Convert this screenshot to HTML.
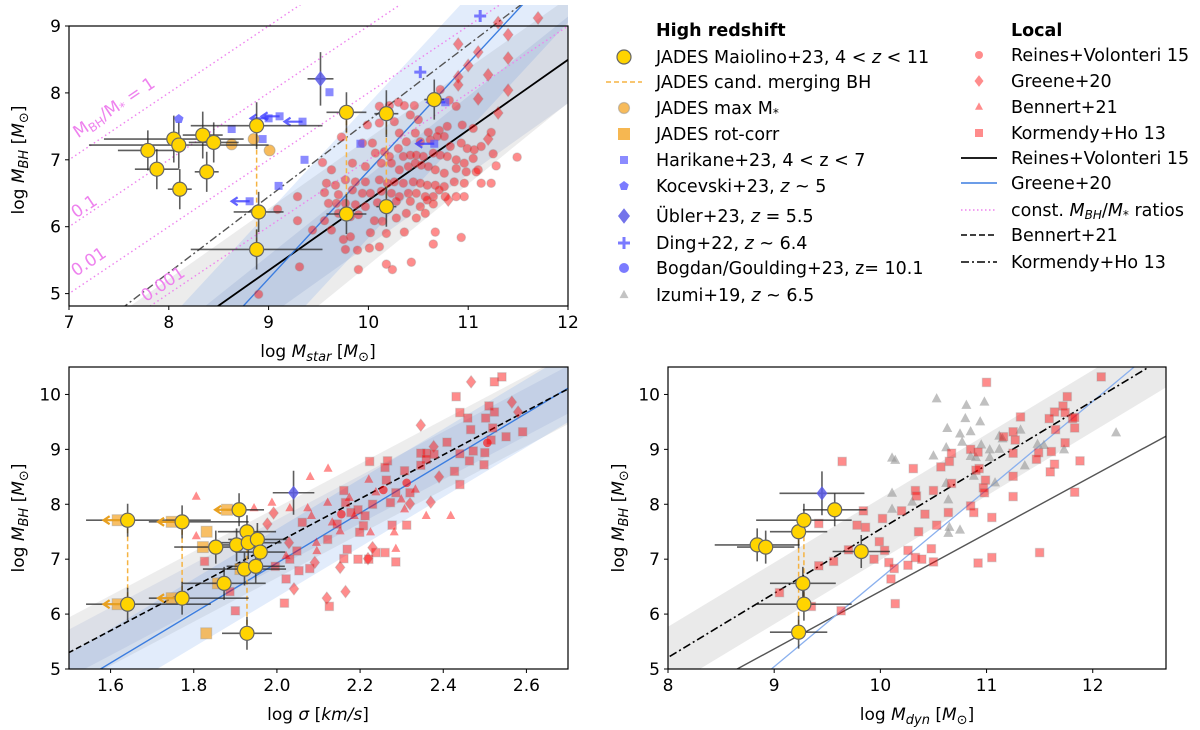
<!DOCTYPE html>
<html><head><meta charset="utf-8">
<style>
html,body{margin:0;padding:0;background:#fff;width:1200px;height:730px;overflow:hidden;}
svg{display:block;font-family:"DejaVu Sans","Liberation Sans",sans-serif;}
</style></head>
<body>
<svg id="fig" width="1200" height="730" viewBox="0 0 1200 730" xmlns="http://www.w3.org/2000/svg">
<defs>
<clipPath id="cTop"><rect x="69" y="5" width="499" height="301"/></clipPath>
<clipPath id="cBL"><rect x="69" y="367" width="499" height="302"/></clipPath>
<clipPath id="cBR"><rect x="668" y="367" width="498" height="302"/></clipPath>
</defs>
</svg>
<script>
// ---------------- DATA ----------------
const jadesStarX=[7.79,7.88,8.05,8.10,8.11,8.34,8.45,8.38,8.88,8.90,8.88,9.78,9.78,10.18,10.18,10.66];
const jadesStarY=[7.14,6.86,7.31,7.22,6.56,7.37,7.26,6.82,7.51,6.22,5.66,7.71,6.19,7.69,6.30,7.90];
const jadesStarXerr=[0.3,0.22,0.7,0.9,0.12,0.2,0.25,0.12,0.66,0.25,0.66,0.2,0.2,0.12,0.1,0.1];
const jadesStarYerr=[0.3,0.3,0.35,0.35,0.3,0.35,0.3,0.3,0.35,0.3,0.3,0.3,0.3,0.35,0.3,0.3];
const mergeStarX=[8.88,9.78,10.18];
const mergeStarY1=[7.51,7.71,7.69];
const mergeStarY2=[5.66,6.19,6.30];
const maxMstarX=[8.63,8.85,9.01];
const maxMstarY=[7.23,7.31,7.14];
const harikaneX=[8.63,8.94,9.11,9.00,9.34,9.36,9.10,8.81,9.61,9.92,10.77,10.66];
const harikaneY=[7.46,7.31,7.65,7.62,7.57,7.00,6.61,6.38,8.01,7.24,7.86,7.24];
const harikaneLimit=[0,0,1,1,1,0,0,1,0,0,1,1];
const kocevskiX=[8.10]; const kocevskiY=[7.61];
const dingX=[11.12,10.52]; const dingY=[9.15,8.31];
const ublerStarX=[9.52]; const ublerStarY=[8.21];
const greeneStarX=[11.70,11.30,11.40,10.90,11.10,11.40,11.00,11.20,10.90,11.40,11.10,11.30,11.20,10.80,10.90];
const greeneStarY=[9.12,9.05,8.87,8.73,8.61,8.52,8.41,8.27,8.24,8.04,7.91,7.70,7.31,6.40,8.12];
const rvX=[10.30,10.11,10.21,10.36,10.46,10.72,10.81,10.88,9.99,10.11,10.26,10.42,10.50,10.31,10.47,10.60,10.71,10.79,10.94,11.05,11.23,10.38,10.52,10.62,10.69,10.76,10.82,10.93,10.99,11.06,11.13,11.25,11.49,9.73,9.94,10.04,10.07,10.16,10.21,10.30,10.35,10.42,10.48,10.55,10.65,10.72,10.79,10.88,10.96,11.05,11.10,11.28,9.54,9.63,9.84,9.97,10.13,10.23,10.31,10.40,10.47,10.53,10.60,10.67,10.76,10.88,10.98,11.08,11.13,11.23,9.58,9.67,9.77,9.87,9.97,10.11,10.19,10.26,10.35,10.45,10.52,10.59,10.67,10.76,10.86,10.96,10.71,9.56,9.70,9.84,9.94,10.02,10.13,10.23,10.31,10.40,10.48,10.57,10.65,10.77,10.88,10.96,9.29,9.60,9.68,9.77,9.87,9.97,10.09,10.28,10.42,10.52,10.59,10.65,9.09,9.29,9.56,9.70,9.82,9.90,10.06,10.14,10.28,10.38,10.48,10.57,9.44,9.63,9.75,9.82,10.02,10.18,10.36,10.67,10.93,9.77,9.89,10.01,10.11,10.43,10.65,9.90,10.18,10.24,9.31,8.90];
const rvY=[7.86,7.80,7.81,7.81,7.81,8.05,7.89,7.80,7.52,7.55,7.57,7.67,7.60,7.40,7.40,7.41,7.44,7.50,7.52,7.47,7.41,7.27,7.27,7.30,7.35,7.35,7.20,7.25,7.17,7.15,7.20,7.09,7.04,7.34,7.25,7.25,7.10,7.12,7.05,7.17,7.05,7.07,7.07,7.05,7.10,7.07,7.05,7.00,6.95,7.02,6.85,6.91,6.96,6.85,6.95,6.90,6.95,6.95,6.85,6.90,6.95,6.92,6.90,6.85,6.80,6.87,6.82,6.82,6.65,6.65,6.65,6.62,6.70,6.67,6.67,6.70,6.65,6.67,6.65,6.67,6.65,6.62,6.62,6.60,6.67,6.65,6.55,6.51,6.48,6.55,6.50,6.50,6.53,6.50,6.45,6.50,6.50,6.45,6.45,6.45,6.45,6.45,6.45,6.35,6.35,6.35,6.33,6.30,6.36,6.38,6.38,6.30,6.40,6.34,6.26,6.09,6.09,6.20,6.15,6.18,6.09,6.08,6.13,6.20,6.13,6.20,5.95,5.95,5.81,5.85,5.91,5.90,5.92,5.92,5.84,5.66,5.65,5.68,5.70,5.47,5.74,5.36,5.44,5.36,5.40,4.99];
const ratioLines=[0,-1,-2,-3];
const starTicksX=[7,8,9,10,11,12];
const starTicksY=[5,6,7,8,9];

const jadesSigX=[1.641,1.772,1.641,1.772,1.909,1.928,1.853,1.903,1.931,1.953,1.960,1.922,1.949,1.873,1.928];
const jadesSigY=[7.71,7.68,6.18,6.29,7.90,7.50,7.22,7.26,7.30,7.36,7.13,6.82,6.87,6.56,5.65];
const jadesSigLimit=[1,1,1,1,1,0,0,0,0,0,0,0,0,0,0];
const jadesSigXerr=[0.2,0.16,0.2,0.16,0.06,0.07,0.1,0.05,0.08,0.07,0.06,0.1,0.07,0.1,0.06];
const rotSigX=[1.617,1.747,1.617,1.747,1.880,1.831,1.822,1.830,1.912,1.858];
const rotSigY=[7.71,7.68,6.18,6.29,7.90,7.50,7.22,5.65,6.82,6.56];
const mergeSigX=[1.641,1.772,1.928];
const mergeSigY1=[7.71,7.68,7.50];
const mergeSigY2=[6.18,6.29,5.65];
const ublerSigX=[2.04]; const ublerSigY=[8.21];
const khSigX=[2.541,2.523,2.431,2.440,2.459,2.502,2.510,2.523,2.466,2.519,2.591,2.551,2.515,2.409,2.472,2.500,2.440,2.346,2.360,2.378,2.463,2.498,2.427,2.440,2.359,2.346,2.223,2.266,2.260,2.161,2.307,2.263,2.286,2.320,2.165,2.195,2.230,2.273,2.212,2.178,2.061,2.048,2.208,2.199,2.169,2.195,2.238,2.260,2.286,2.312,2.277,2.122,2.031,2.053,2.079,2.022,2.161,2.221,2.018,2.126,1.900,1.887,1.826,1.996,2.145];
const khSigY=[10.32,10.23,9.96,9.67,9.57,9.57,9.79,9.68,9.36,9.39,9.32,9.23,9.17,9.13,8.97,8.94,8.92,8.93,8.93,8.91,8.79,8.72,8.60,8.36,8.82,8.71,8.78,8.79,8.67,8.25,8.61,8.44,8.21,8.21,8.03,7.90,8.00,8.03,7.79,7.85,7.67,7.15,7.61,7.49,7.18,7.00,7.12,7.12,6.95,7.62,7.62,7.36,7.00,6.79,6.83,6.64,7.01,7.00,6.20,6.14,6.06,6.41,6.96,6.87,7.64];
const bennertSigX=[1.806,2.123,2.080,1.945,1.988,2.031,2.074,2.083,2.122,2.133,2.174,2.221,2.238,2.299,2.307,2.359,2.418,2.286,2.282,2.225,2.152,2.095,2.096,1.806,2.022,2.186,2.333];
const bennertSigY=[8.14,8.65,8.50,7.93,8.03,7.93,7.93,7.79,8.03,7.67,8.12,8.45,8.22,8.09,7.91,7.79,7.79,7.19,7.49,7.49,7.51,7.30,7.15,7.42,7.06,7.79,8.27];
const greeneSigX=[2.467,2.346,2.565,2.580,2.377,2.390,2.370,2.320,1.977,1.992,2.029,2.041,2.120,2.165,2.152,2.091,2.219,2.230];
const greeneSigY=[10.23,9.44,9.86,9.68,9.05,8.50,8.04,8.01,7.64,7.84,7.30,6.46,6.29,6.41,6.85,6.94,7.01,7.21];
const rvSigX=[2.155,2.312,2.506,2.256];
const rvSigY=[7.82,8.39,9.12,8.26];
const sigTicksX=[1.6,1.8,2.0,2.2,2.4,2.6];
const bhTicksY=[5,6,7,8,9,10];

const jadesDynX=[8.84,8.92,9.23,9.28,9.57,9.82,9.27,9.28,9.23];
const jadesDynY=[7.26,7.22,7.50,7.71,7.90,7.14,6.56,6.18,5.67];
const jadesDynXerr=[0.4,0.27,0.27,0.45,0.3,0.27,0.31,0.45,0.27];
const mergeDynX=[9.23,9.28];
const mergeDynY1=[7.50,7.71];
const mergeDynY2=[5.67,6.18];
const ublerDynX=[9.45]; const ublerDynY=[8.20];
const khDynX=[11.00,12.08,11.76,11.72,11.64,11.74,11.59,11.32,11.81,11.83,11.25,11.65,11.27,11.74,11.16,10.85,10.67,10.92,11.61,11.49,11.47,11.88,11.25,10.65,10.57,11.64,11.60,10.31,9.64,10.90,10.93,11.25,10.99,10.67,10.97,10.33,10.50,10.98,10.34,11.25,11.83,10.20,9.84,10.85,10.88,10.64,10.42,11.05,10.02,9.78,9.86,9.42,10.53,10.36,9.99,10.04,10.26,9.70,10.48,9.94,10.33,10.39,9.56,10.08,10.50,10.26,10.13,10.10,9.42,9.05,9.35,9.63,10.14,10.92,11.05,11.50,11.83];
const khDynY=[10.22,10.32,9.96,9.79,9.68,9.67,9.56,9.59,9.56,9.39,9.32,9.36,9.17,9.12,9.23,9.00,8.93,8.95,8.96,8.94,8.82,8.79,8.93,8.78,8.68,8.73,8.59,8.65,8.78,8.62,8.65,8.51,8.44,8.38,8.30,8.25,8.25,8.21,8.15,8.14,8.22,7.88,7.88,7.97,7.85,7.85,7.82,7.76,7.74,7.62,7.58,7.65,7.62,7.50,7.32,7.16,7.16,7.17,7.19,7.00,7.03,7.00,6.96,6.94,6.95,6.89,6.83,6.64,6.88,6.39,6.14,6.06,6.19,6.93,7.03,7.12,9.58];
const izumiDynX=[10.53,10.81,10.98,10.80,10.94,10.63,10.75,10.85,10.77,10.95,10.62,10.50,10.85,11.03,11.12,11.12,11.15,11.32,11.48,11.54,11.73,12.22,11.36,10.11,10.14,10.90,11.03,10.62,11.08,10.88,10.11,10.30,10.64,10.11,10.65,10.64,10.75];
const izumiDynY=[9.92,9.80,9.86,9.56,9.50,9.38,9.28,9.32,9.13,9.08,9.03,8.88,8.87,8.99,9.00,9.24,9.19,9.35,9.09,9.07,8.99,9.30,8.70,8.84,8.80,8.85,8.85,8.38,8.39,8.51,8.20,8.04,8.08,7.91,7.58,7.47,7.53];
const dynTicksX=[8,9,10,11,12];

const rvRel=[8.48,4.80,1.05];
const greeneStarRel=[8.75,4.82,1.61];
const khStarRel=[7.90,5.20,1.135];
const bennertSigRel=[1.5,5.30,4.0];
const greeneSigRel=[1.578,5.01,4.55];
const khDynRel=[8.0,5.21,1.168];
const grayDynRel=[8.68,5.03,1.05];
const greeneDynRel=[8.98,5.01,1.61];

// ---------------- DRAWING ----------------
const NS='http://www.w3.org/2000/svg';
const svg=document.getElementById('fig');
const FS=17;
function mk(tag,attrs,parent){const e=document.createElementNS(NS,tag);for(const k in attrs)e.setAttribute(k,attrs[k]);(parent||svg).appendChild(e);return e;}
function panel(x0,x1,px0,px1,y0,y1,py0,py1){
  return {X:v=>px0+(v-x0)/(x1-x0)*(px1-px0),Y:v=>py0+(v-y0)/(y1-y0)*(py1-py0),x0,x1,y0,y1,px0,px1,py0,py1};
}
const PT=panel(7,12,69,568,5,9,293.6,26);
const PL=panel(1.5,2.7,69,568,5,10.5,669,367);
const PR=panel(8,12.69,668,1166,5,10.5,669,367);

function rel(r,x){return r[1]+r[2]*(x-r[0]);}
function bandPoly(g,P,fU,fL,color,name){
  const xs=[P.x0-0.5,P.x1+0.5];
  const pts=[[xs[0],fU(xs[0])],[xs[1],fU(xs[1])],[xs[1],fL(xs[1])],[xs[0],fL(xs[0])]];
  const e=mk('polygon',{points:pts.map(p=>P.X(p[0])+','+P.Y(p[1])).join(' '),fill:color},g);
  
  
}
function relLine(g,P,r,style,name){
  const xa=P.x0-0.5,xb=P.x1+0.5;
  const e=mk('line',Object.assign({x1:P.X(xa),y1:P.Y(rel(r,xa)),x2:P.X(xb),y2:P.Y(rel(r,xb))},style),g);
  
  
}
function marker(g,type,x,y,s,fill,stroke,sw){
  let e;
  if(type==='c') e=mk('circle',{cx:x,cy:y,r:s,fill:fill,stroke:stroke,'stroke-width':sw},g);
  else if(type==='s') e=mk('rect',{x:x-s,y:y-s,width:2*s,height:2*s,fill:fill,stroke:stroke,'stroke-width':sw},g);
  else if(type==='d') e=mk('polygon',{points:`${x},${y-s*1.3} ${x+s},${y} ${x},${y+s*1.3} ${x-s},${y}`,fill:fill,stroke:stroke,'stroke-width':sw},g);
  else if(type==='t') e=mk('polygon',{points:`${x},${y-s*1.15} ${x+s},${y+s*0.7} ${x-s},${y+s*0.7}`,fill:fill,stroke:stroke,'stroke-width':sw},g);
  else if(type==='p') e=mk('polygon',{points:[0,1,2,3,4].map(i=>{const a=-Math.PI/2+i*2*Math.PI/5;return (x+s*Math.cos(a))+','+(y+s*Math.sin(a));}).join(' '),fill:fill,stroke:stroke,'stroke-width':sw},g);
  else if(type==='+') {e=mk('path',{d:`M${x-s},${y}H${x+s}M${x},${y-s}V${y+s}`,stroke:fill,'stroke-width':3},g);}
  return e;
}
function scatter(g,P,xs,ys,type,s,fill,stroke,sw,name){
  for(let i=0;i<xs.length;i++){
    const e=marker(g,type,P.X(xs[i]),P.Y(ys[i]),s,fill,stroke,sw);
    
    
  }
}
function errbars(g,P,xs,ys,xe,ye,name){
  for(let i=0;i<xs.length;i++){
    const e=mk('path',{d:`M${P.X(xs[i]-xe[i])},${P.Y(ys[i])}H${P.X(xs[i]+xe[i])}M${P.X(xs[i])},${P.Y(ys[i]-ye[i])}V${P.Y(ys[i]+ye[i])}`,stroke:'rgba(40,40,40,0.75)','stroke-width':1.6,fill:'none'},g);
    
    
  }
}
function vdash(g,P,xs,y1,y2,name){
  for(let i=0;i<xs.length;i++){
    const e=mk('line',{x1:P.X(xs[i]),x2:P.X(xs[i]),y1:P.Y(y1[i]),y2:P.Y(y2[i]),stroke:'#f5b342','stroke-width':1.5,'stroke-dasharray':'5,3'},g);
    
    
  }
}
function arrowLeft(g,x,y,len,color,name){
  const e=mk('path',{d:`M${x},${y}H${x-len}M${x-len+6},${y-4}L${x-len},${y}L${x-len+6},${y+4}`,stroke:color,'stroke-width':2.2,fill:'none'},g);
  
  
}
function axes(P,tx,ty,fmtx,panelName){
  const g=mk('g',{});
  
  
  const bottom=panelName==='top-panel'?306:669;
  const fr=mk('rect',{x:P.px0,y:P.py1,width:P.px1-P.px0,height:bottom-P.py1,fill:'none',stroke:'#000','stroke-width':1.2},g);
  
  
  tx.forEach(v=>{
    const x=P.X(v);
    mk('line',{x1:x,x2:x,y1:bottom,y2:bottom+4,stroke:'#000','stroke-width':1},g);
    const t=mk('text',{x:x,y:bottom+22,'text-anchor':'middle','font-size':FS,fill:'#000'},g);
    t.textContent=fmtx(v);
    
    
  });
  ty.forEach(v=>{
    const y=P.Y(v);
    mk('line',{x1:P.px0,x2:P.px0-4,y1:y,y2:y,stroke:'#000','stroke-width':1},g);
    const t=mk('text',{x:P.px0-8,y:y+6,'text-anchor':'end','font-size':FS,fill:'#000'},g);
    t.textContent=v;
    
    
  });
  return g;
}
function txt(parent,x,y,html,attrs,name){
  const t=mk('text',Object.assign({x:x,y:y,'font-size':FS,fill:'#000'},attrs||{}),parent);
  t.innerHTML=html;
  
  
  return t;
}
const RED='rgba(255,0,0,0.45)', REDE='rgba(150,150,150,0.3)';

// ===== TOP PANEL =====
const gT=mk('g',{'clip-path':'url(#cTop)'});


bandPoly(gT,PT,x=>4.82+1.05*(x-7.62),x=>4.82+1.212*(x-9.5),'rgba(150,150,150,0.18)','rv15-scatter-band');
bandPoly(gT,PT,x=>rel(greeneStarRel,x)+1.0,x=>rel(greeneStarRel,x)-1.0,'rgba(110,160,235,0.2)','greene20-scatter-band');
bandPoly(gT,PT,x=>4.82+1.19*(x-8.37),x=>4.82+1.06*(x-9.15),'rgba(80,110,180,0.13)','fit-uncertainty-band');
ratioLines.forEach(o=>relLine(gT,PT,[0,o,1],{stroke:'violet','stroke-width':1.4,'stroke-dasharray':'1.5,3'},'const-ratio-line'));
relLine(gT,PT,khStarRel,{stroke:'#555','stroke-width':1.4,'stroke-dasharray':'8,3,2,3'},'kormendy-ho-relation');
relLine(gT,PT,rvRel,{stroke:'#000','stroke-width':1.8},'reines-volonteri-relation');
relLine(gT,PT,greeneStarRel,{stroke:'#3b7de0','stroke-width':1.4},'greene20-relation');
scatter(gT,PT,rvX,rvY,'c',4.3,RED,REDE,1.2,'reines-volonteri-point');
scatter(gT,PT,greeneStarX,greeneStarY,'d',5,RED,REDE,1,'greene20-point');
scatter(gT,PT,harikaneX,harikaneY,'s',4,'rgba(90,90,255,0.7)','none',0,'harikane-point');
harikaneX.forEach((v,i)=>{if(harikaneLimit[i])arrowLeft(gT,PT.X(v),PT.Y(harikaneY[i]),18,'rgba(60,60,255,0.8)','harikane-limit-arrow');});
scatter(gT,PT,dingX,dingY,'+',6,'rgba(90,90,255,0.8)','none',0,'ding-point');
scatter(gT,PT,maxMstarX,maxMstarY,'c',5.5,'rgba(245,170,50,0.8)','rgba(150,150,150,0.5)',1,'jades-max-mstar-point');
vdash(gT,PT,mergeStarX,mergeStarY1,mergeStarY2,'jades-merging-link');
errbars(gT,PT,jadesStarX,jadesStarY,jadesStarXerr,jadesStarYerr,'jades-errorbar');
errbars(gT,PT,ublerStarX,ublerStarY,[0.13],[0.4],'ubler-errorbar');
scatter(gT,PT,kocevskiX,kocevskiY,'p',5,'rgba(90,90,255,0.8)','none',0,'kocevski-point');
scatter(gT,PT,ublerStarX,ublerStarY,'d',6,'rgba(90,90,230,0.85)','none',0,'ubler-point');
scatter(gT,PT,jadesStarX,jadesStarY,'c',7,'#ffd400','#666',1.2,'jades-point');
axes(PT,starTicksX,starTicksY,v=>v,'top-panel');
[['M<tspan font-size="12" dy="3">BH</tspan><tspan dy="-3">/M</tspan><tspan font-size="12" dy="3">*</tspan><tspan dy="-3"> = 1</tspan>',7.09,7.32],['0.1',7.07,6.12],['0.01',7.07,5.25],['0.001',7.77,4.87]].forEach(l=>{
  const x=PT.X(l[1]),y=PT.Y(l[2]);
  txt(svg,x,y,l[0],{fill:'violet','font-size':17,transform:`rotate(-33.8 ${x} ${y})`},'ratio-label');
});
txt(svg,318,357,'log <tspan font-style="italic">M</tspan><tspan font-style="italic" font-size="13" dy="4">star</tspan><tspan dy="-4">  [</tspan><tspan font-style="italic">M</tspan><tspan font-size="13" dy="4">⊙</tspan><tspan dy="-4">]</tspan>',{'text-anchor':'middle'},'x-axis-title-mstar');
txt(svg,24,160,'log <tspan font-style="italic">M</tspan><tspan font-style="italic" font-size="13" dy="4">BH</tspan><tspan dy="-4">  [</tspan><tspan font-style="italic">M</tspan><tspan font-size="13" dy="4">⊙</tspan><tspan dy="-4">]</tspan>',{'text-anchor':'middle',transform:'rotate(-90 24 160)'},'y-axis-title-top');

// ===== BOTTOM LEFT =====
const gL=mk('g',{'clip-path':'url(#cBL)'});


bandPoly(gL,PL,x=>rel(bennertSigRel,x)+0.64,x=>rel(bennertSigRel,x)-0.64,'rgba(150,150,150,0.17)','bennert-scatter-band');
bandPoly(gL,PL,x=>rel(greeneSigRel,x)+0.62,x=>rel(greeneSigRel,x)-0.62,'rgba(110,160,235,0.2)','greene-sigma-band');
bandPoly(gL,PL,x=>rel(bennertSigRel,x)+0.42,x=>rel(bennertSigRel,x)-0.45,'rgba(80,110,180,0.11)','fit-band-sigma');
relLine(gL,PL,greeneSigRel,{stroke:'#3b7de0','stroke-width':1.4},'greene-sigma-relation');
relLine(gL,PL,bennertSigRel,{stroke:'#000','stroke-width':1.6,'stroke-dasharray':'6,3'},'bennert-relation');
scatter(gL,PL,khSigX,khSigY,'s',4.2,RED,REDE,1.2,'kormendy-ho-point');
scatter(gL,PL,bennertSigX,bennertSigY,'t',4.5,RED,'none',0,'bennert-point');
scatter(gL,PL,greeneSigX,greeneSigY,'d',4.8,RED,REDE,1,'greene-sigma-point');
scatter(gL,PL,rvSigX,rvSigY,'c',4.3,'rgba(255,0,0,0.6)','none',0,'rv-sigma-point');
scatter(gL,PL,rotSigX,rotSigY,'s',5.5,'rgba(245,170,50,0.75)','rgba(150,150,150,0.4)',1,'jades-rot-corr-point');
vdash(gL,PL,mergeSigX,mergeSigY1,mergeSigY2,'jades-merging-link');
jadesSigX.forEach((v,i)=>{
  const e=mk('path',{d:`M${PL.X(v-jadesSigXerr[i]*(jadesSigLimit[i]?0.5:1))},${PL.Y(jadesSigY[i])}H${PL.X(v+jadesSigXerr[i])}M${PL.X(v)},${PL.Y(jadesSigY[i]-0.3)}V${PL.Y(jadesSigY[i]+0.3)}`,stroke:'rgba(40,40,40,0.75)','stroke-width':1.6,fill:'none'},gL);
  
  
  if(jadesSigLimit[i])arrowLeft(gL,PL.X(v),PL.Y(jadesSigY[i]),24,'#e8a020','jades-sigma-limit-arrow');
});
errbars(gL,PL,ublerSigX,ublerSigY,[0.05],[0.4],'ubler-errorbar');
scatter(gL,PL,ublerSigX,ublerSigY,'d',5.5,'rgba(90,90,230,0.85)','none',0,'ubler-point');
scatter(gL,PL,jadesSigX,jadesSigY,'c',7,'#ffd400','#666',1.2,'jades-point');
axes(PL,sigTicksX,bhTicksY,v=>v.toFixed(1),'sigma-panel');
txt(svg,318,720,'log <tspan font-style="italic">σ</tspan>  [<tspan font-style="italic">km/s</tspan>]',{'text-anchor':'middle'},'x-axis-title-sigma');
txt(svg,24,518,'log <tspan font-style="italic">M</tspan><tspan font-style="italic" font-size="13" dy="4">BH</tspan><tspan dy="-4">  [</tspan><tspan font-style="italic">M</tspan><tspan font-size="13" dy="4">⊙</tspan><tspan dy="-4">]</tspan>',{'text-anchor':'middle',transform:'rotate(-90 24 518)'},'y-axis-title-sigma');

// ===== BOTTOM RIGHT =====
const gR=mk('g',{'clip-path':'url(#cBR)'});


bandPoly(gR,PR,x=>rel(khDynRel,x)+0.56,x=>rel(khDynRel,x)-0.56,'rgba(150,150,150,0.2)','kormendy-ho-band');
relLine(gR,PR,grayDynRel,{stroke:'#555','stroke-width':1.4},'mdyn-reference-line');
relLine(gR,PR,greeneDynRel,{stroke:'#8ab0ee','stroke-width':1.3},'greene-mdyn-relation');
relLine(gR,PR,khDynRel,{stroke:'#000','stroke-width':1.6,'stroke-dasharray':'8,3,2,3'},'kormendy-ho-mdyn-relation');
scatter(gR,PR,izumiDynX,izumiDynY,'t',5,'rgba(150,150,150,0.6)','none',0,'izumi-point');
scatter(gR,PR,khDynX,khDynY,'s',4.2,RED,REDE,1.2,'kormendy-ho-point');
vdash(gR,PR,mergeDynX,mergeDynY1,mergeDynY2,'jades-merging-link');
errbars(gR,PR,jadesDynX,jadesDynY,jadesDynXerr,jadesDynXerr.map(()=>0.3),'jades-errorbar');
errbars(gR,PR,ublerDynX,ublerDynY,[0.4],[0.4],'ubler-errorbar');
scatter(gR,PR,ublerDynX,ublerDynY,'d',5.5,'rgba(90,90,230,0.85)','none',0,'ubler-point');
scatter(gR,PR,jadesDynX,jadesDynY,'c',7,'#ffd400','#666',1.2,'jades-point');
axes(PR,dynTicksX,bhTicksY,v=>v,'mdyn-panel');
txt(svg,917,720,'log <tspan font-style="italic">M</tspan><tspan font-style="italic" font-size="13" dy="4">dyn</tspan><tspan dy="-4">  [</tspan><tspan font-style="italic">M</tspan><tspan font-size="13" dy="4">⊙</tspan><tspan dy="-4">]</tspan>',{'text-anchor':'middle'},'x-axis-title-mdyn');
txt(svg,624,518,'log <tspan font-style="italic">M</tspan><tspan font-style="italic" font-size="13" dy="4">BH</tspan><tspan dy="-4">  [</tspan><tspan font-style="italic">M</tspan><tspan font-size="13" dy="4">⊙</tspan><tspan dy="-4">]</tspan>',{'text-anchor':'middle',transform:'rotate(-90 624 518)'},'y-axis-title-mdyn');

// ===== LEGEND =====
const gLeg=mk('g',{});


txt(gLeg,656,36,'High redshift',{'font-weight':'bold','font-size':17.5},'legend-title-high-z');
txt(gLeg,1011,36,'Local',{'font-weight':'bold','font-size':17.5},'legend-title-local');
const leftRows=[
 ['c','#ffd400','#666',7,'JADES Maiolino+23, 4 &lt; <tspan font-style="italic">z</tspan> &lt; 11'],
 ['dash','#f5b342','',0,'JADES cand. merging BH'],
 ['c','rgba(245,170,50,0.8)','rgba(150,150,150,0.5)',5.5,'JADES max M<tspan font-size="12" dy="3">*</tspan>'],
 ['s','rgba(245,170,50,0.85)','none',6,'JADES rot-corr'],
 ['s','rgba(90,90,255,0.7)','none',4,'Harikane+23, 4 &lt; z &lt; 7'],
 ['p','rgba(90,90,255,0.8)','none',5,'Kocevski+23, <tspan font-style="italic">z</tspan> ~ 5'],
 ['d','rgba(90,90,230,0.85)','none',6,'Übler+23, <tspan font-style="italic">z</tspan> = 5.5'],
 ['+','rgba(90,90,255,0.8)','none',6,'Ding+22, <tspan font-style="italic">z</tspan> ~ 6.4'],
 ['c','rgba(90,90,255,0.8)','none',5,'Bogdan/Goulding+23, z= 10.1'],
 ['t','rgba(170,170,170,0.7)','none',4.5,'Izumi+19, <tspan font-style="italic">z</tspan> ~ 6.5']];
const leftRowY=[57,82,108,134,160,186,216,243,268,295];
leftRows.forEach((r,i)=>{
  const y=leftRowY[i];
  if(r[0]==='dash'){const e=mk('line',{x1:606,x2:642,y1:y,y2:y,stroke:r[1],'stroke-width':1.5,'stroke-dasharray':'5,3'},gLeg);}
  else{const e=marker(gLeg,r[0],624,y,r[3],r[1],r[2],1.2);}
  txt(gLeg,656,y+6,r[4],{'font-size':17.5},'legend-entry');
});
const rightRows=[
 ['c',RED,4,'Reines+Volonteri 15'],
 ['d',RED,4.5,'Greene+20'],
 ['t',RED,4,'Bennert+21'],
 ['s',RED,4,'Kormendy+Ho 13'],
 ['line','#000','','Reines+Volonteri 15'],
 ['line','#3b7de0','','Greene+20'],
 ['dot','violet','','const. <tspan font-style="italic">M</tspan><tspan font-style="italic" font-size="12" dy="3">BH</tspan><tspan dy="-3">/</tspan><tspan font-style="italic">M</tspan><tspan font-size="12" dy="3">*</tspan><tspan dy="-3"> ratios</tspan>'],
 ['dashl','#000','','Bennert+21'],
 ['dashdot','#000','','Kormendy+Ho 13']];
const rightRowY=[55,81,107,133,158,183,210,235,262];
rightRows.forEach((r,i)=>{
  const y=rightRowY[i];let e;
  if(r[0]==='line') e=mk('line',{x1:961,x2:997,y1:y,y2:y,stroke:r[1],'stroke-width':r[1]==='#000'?1.8:1.4},gLeg);
  else if(r[0]==='dot') e=mk('line',{x1:961,x2:997,y1:y,y2:y,stroke:r[1],'stroke-width':1.4,'stroke-dasharray':'1.5,2.5'},gLeg);
  else if(r[0]==='dashl') e=mk('line',{x1:961,x2:997,y1:y,y2:y,stroke:r[1],'stroke-width':1.6,'stroke-dasharray':'6,3'},gLeg);
  else if(r[0]==='dashdot') e=mk('line',{x1:961,x2:997,y1:y,y2:y,stroke:r[1],'stroke-width':1.6,'stroke-dasharray':'8,3,2,3'},gLeg);
  else e=marker(gLeg,r[0],979,y,r[2],r[1],'none',0);
  
  
  txt(gLeg,1011,y+6,r[3],{'font-size':17.5},'legend-entry');
});
</script>
</body></html>
